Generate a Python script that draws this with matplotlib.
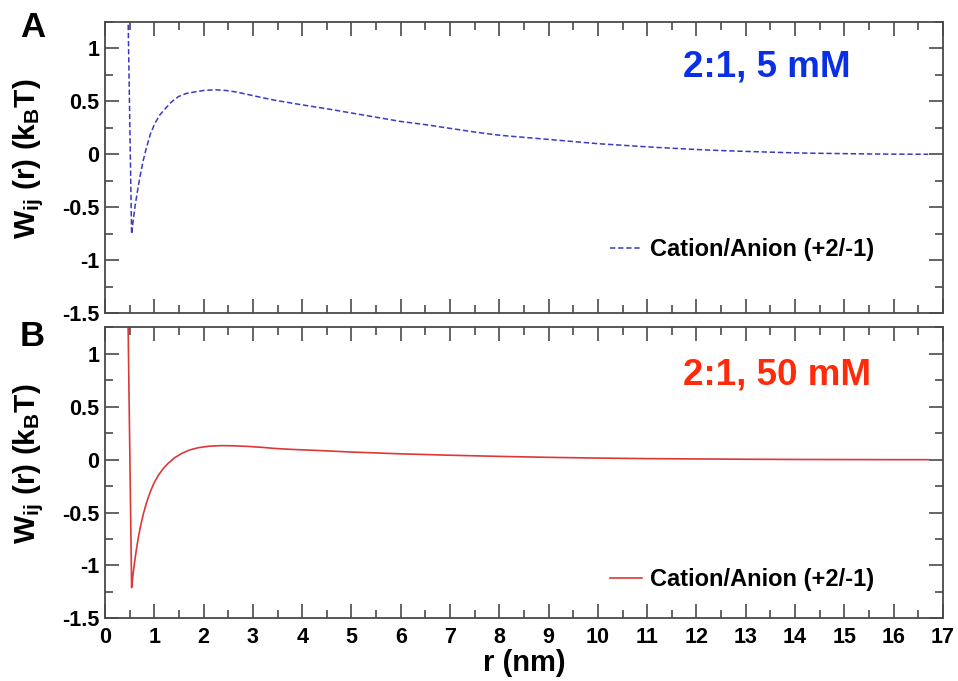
import matplotlib
matplotlib.use("Agg")
import matplotlib.pyplot as plt
from matplotlib.ticker import MultipleLocator

plt.rcParams['font.family'] = ['Liberation Sans', 'DejaVu Sans']
plt.rcParams['font.weight'] = 'bold'
plt.rcParams['mathtext.fontset'] = 'custom'
plt.rcParams['mathtext.rm'] = 'Liberation Sans:bold'
plt.rcParams['mathtext.it'] = 'Liberation Sans:bold'
plt.rcParams['mathtext.bf'] = 'Liberation Sans:bold'

# ---- data ----
r_5mM = [0.468, 0.54, 0.575, 0.61, 0.66, 0.71, 0.775, 0.845, 0.92, 1.01, 1.11, 1.22, 1.35,
         1.49, 1.65, 1.83, 2.00, 2.23, 2.45, 2.64, 2.85, 3.04, 3.45,
         3.96, 4.50, 5.00, 5.50, 6.00, 6.50, 7.00, 7.50, 8.00, 8.50, 9.00, 9.50, 10.0,
         10.5, 11.0, 11.5, 12.0, 12.5, 13.0, 13.5, 14.0, 14.5, 15.0, 15.5, 16.0, 16.7]
w_5mM = [1.30, -0.755, -0.615, -0.49, -0.345, -0.21, -0.06, 0.07, 0.19, 0.29, 0.37, 0.43, 0.495,
         0.545, 0.575, 0.59, 0.603, 0.61, 0.603, 0.59, 0.57, 0.55, 0.51,
         0.47, 0.43, 0.39, 0.35, 0.31, 0.28, 0.245, 0.21, 0.18, 0.16, 0.14, 0.12, 0.10,
         0.085, 0.07, 0.057, 0.045, 0.035, 0.027, 0.02, 0.013, 0.009, 0.006, 0.003, 0.001, 0.0]

r_50mM = [0.468, 0.54, 0.565, 0.60, 0.64, 0.675, 0.72, 0.78, 0.84, 0.91, 0.99, 1.08, 1.18,
          1.28, 1.41, 1.56, 1.72, 1.89, 2.10, 2.37, 2.60, 2.91, 3.20, 3.45,
          3.75, 4.50, 5.00, 6.00, 7.00, 8.00, 9.00, 10.0, 11.0, 12.0, 13.0, 14.0, 15.0,
          16.0, 16.7]
w_50mM = [1.30, -1.21, -1.10, -0.97, -0.84, -0.74, -0.63, -0.51, -0.41, -0.315, -0.225, -0.15, -0.085,
          -0.035, 0.017, 0.06, 0.092, 0.113, 0.127, 0.133, 0.131, 0.125, 0.116, 0.106,
          0.098, 0.083, 0.072, 0.055, 0.042, 0.031, 0.022, 0.015, 0.010, 0.007, 0.004, 0.002, 0.001,
          0.0, 0.0]

legend_label = "Cation/Anion (+2/-1)"
titles = ["2:1, 5 mM", "2:1, 50 mM"]
panel_letters = ["A", "B"]

fig = plt.figure(figsize=(9.58, 6.81), dpi=100)
ax1 = fig.add_axes([0.1096, 0.5404, 0.8747, 0.4273])
ax2 = fig.add_axes([0.1096, 0.0921, 0.8747, 0.4270])

ax1.plot(r_5mM, w_5mM, color='#3a3ac0', lw=1.1, dashes=(3.5, 1.8), label=legend_label)
ax2.plot(r_50mM, w_50mM, color='#dd3838', lw=1.2, label=legend_label)

spine_c = '#4a4a4a'
for ax in (ax1, ax2):
    ax.set_xlim(0, 17)
    ax.set_ylim(-1.5, 1.25)
    ax.xaxis.set_major_locator(MultipleLocator(1))
    ax.xaxis.set_minor_locator(MultipleLocator(0.5))
    ax.yaxis.set_minor_locator(MultipleLocator(0.25))
    ax.tick_params(which='both', direction='in', top=True, right=True,
                   color=spine_c, width=1.2, labelsize=15.5)
    ax.tick_params(which='major', length=10)
    ax.tick_params(which='minor', length=5.5)
    ax.tick_params(axis='y', pad=4)
    ax.tick_params(axis='x', pad=6)
    for s in ax.spines.values():
        s.set_color(spine_c)
        s.set_linewidth(1.3)
    ax.set_yticks([-1.5, -1, -0.5, 0, 0.5, 1])
    ax.set_yticklabels(['-1.5', '-1', '-0.5', '0', '0.5', '1'])
    ax.set_ylabel(r"W$_{ij}$ (r) (k$_{B}$T)", fontsize=21.5, fontweight='bold')
    ax.yaxis.set_label_coords(-0.07, 0.53)

ax1.tick_params(axis='x', labelbottom=False)
ax2.set_xlabel("r (nm)", fontsize=21, fontweight='bold', labelpad=1)

ax1.text(0.69, 0.846, titles[0], transform=ax1.transAxes, color='#0a30e6',
         fontsize=26.5, fontweight='bold', ha='left', va='center')
ax2.text(0.69, 0.837, titles[1], transform=ax2.transAxes, color='#ff2a0a',
         fontsize=26.5, fontweight='bold', ha='left', va='center')

for ax, y in ((ax1, 0.2165), (ax2, 0.1317)):
    ax.legend(loc='center left', bbox_to_anchor=(0.6026, y), frameon=False,
              fontsize=17, handlelength=1.35, handletextpad=0.35,
              borderpad=0, borderaxespad=0)

fig.text(0.034, 0.9596, panel_letters[0], fontsize=25, fontweight='bold', ha='center', va='center')
fig.text(0.034, 0.5066, panel_letters[1], fontsize=25, fontweight='bold', ha='center', va='center')

fig.savefig("out.png", dpi=100)
